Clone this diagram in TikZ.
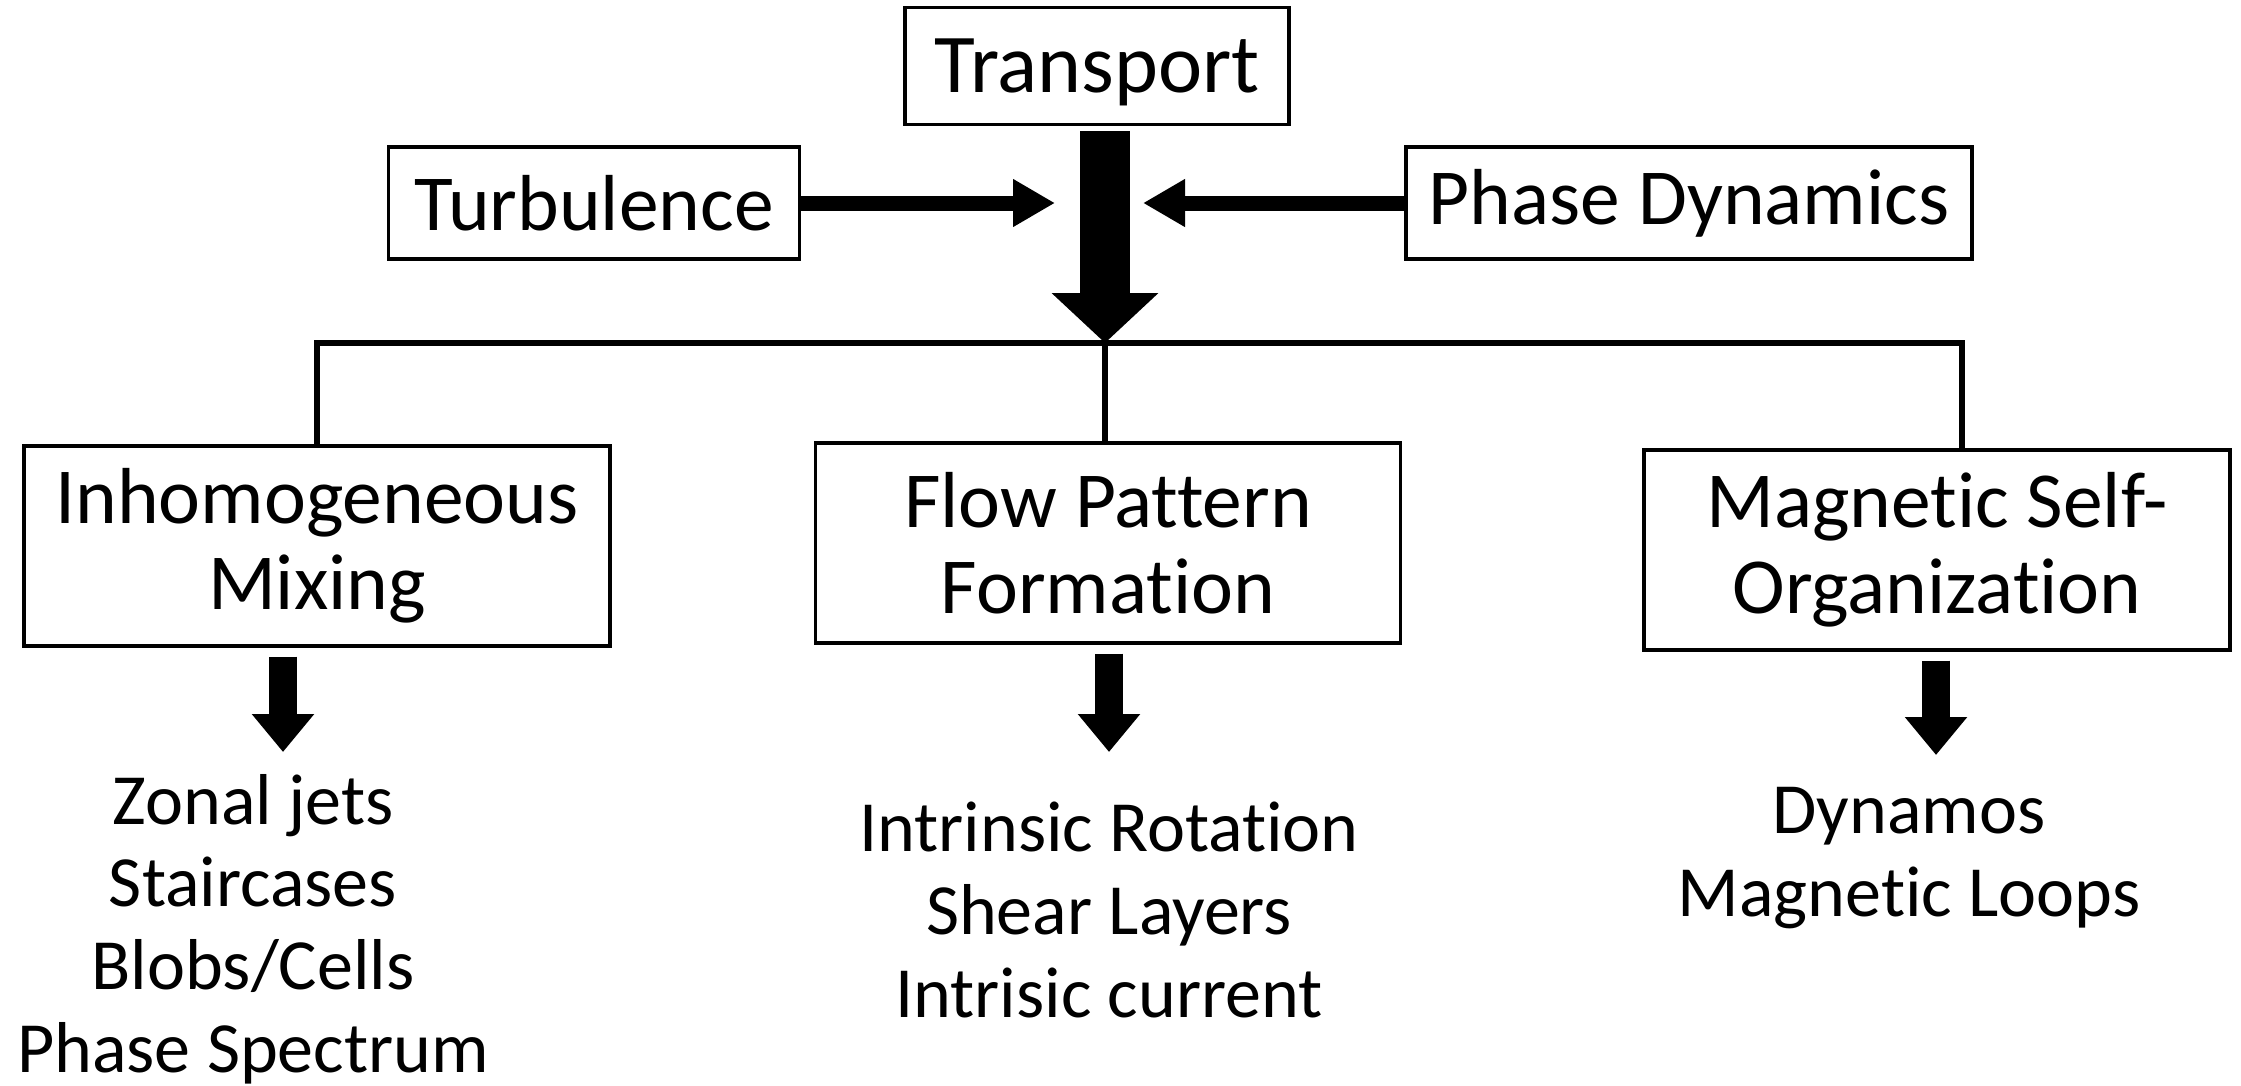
\documentclass[tikz,border=0pt]{standalone}
\usepackage{fontspec}
\setmainfont{Carlito}[Ligatures={NoCommon,NoContextual},Contextuals=NoAlternate]
\usetikzlibrary{arrows.meta,positioning}

\begin{document}
\begin{tikzpicture}[box/.style={draw,line width=0.9pt,align=center,inner sep=0pt,font=\fontsize{22.6}{24.5}\selectfont},
  items/.style={align=center,inner sep=0pt,font=\fontsize{20.5}{23.5}\selectfont},
  bar/.style={line width=1.7pt},
  fat/.style={line width=0.5cm,-{Triangle[length=0.5cm,width=1.04cm]}},
  side/.style={line width=0.15cm,-{Triangle[length=0.42cm,width=0.45cm]}},
  small/.style={line width=0.28cm,-{Triangle[length=0.38cm,width=0.6cm]}}]

    \useasboundingbox (0,0) rectangle (22.41,-10.85);

    \node[box,minimum width=3.84cm,minimum height=1.17cm,text depth=-2pt,font=\fontsize{23.8}{26}\selectfont] (tr) at (10.97,-0.66) {Transport};
    \node[box,minimum width=4.11cm,minimum height=1.12cm] (turb) at (5.94,-2.03) {Turbulence};
    \node[box,minimum width=5.66cm,minimum height=1.12cm] (phase) at (16.89,-2.03) {Phase Dynamics};

    \node[box,minimum width=5.86cm,minimum height=2cm] (inh) at (3.17,-5.46) {Inhomogeneous\\Mixing};
    \node[box,minimum width=5.85cm,minimum height=2cm] (flow) at (11.08,-5.43) {Flow Pattern\\Formation};
    \node[box,minimum width=5.86cm,minimum height=2cm] (mag) at (19.37,-5.50) {Magnetic Self-\\Organization};

    \node[items] (inhlist) at (2.53,-9.29) {Zonal jets\\Staircases\\Blobs/Cells\\Phase Spectrum};
    \node[items] (flowlist) at (11.09,-9.10) {Intrinsic Rotation\\Shear Layers\\Intrisic current};
    \node[items] (maglist) at (19.09,-8.58) {Dynamos\\Magnetic Loops};

    % arrows into transport
    \coordinate (jn) at (11.05,-3.43);
    \coordinate (ltip) at (10.55,-2.04);
    \coordinate (rtip) at (11.43,-2.07);
    \draw[side] (turb.east) -- (turb.east -| ltip);
    \draw[side] (phase.west) -- (phase.west -| rtip);
    \draw[fat,shorten <=0.05cm] (tr.south -| jn) -- (jn);

    % branching bar
    \draw[bar] (inh.north) |- (jn) -| ([xshift=0.25cm]mag.north);
    \draw[bar] (jn) -- (flow.north -| jn);

    % down to the lists
    \coordinate (t1) at (2.83,-7.52);
    \coordinate (t2) at (11.09,-7.52);
    \coordinate (t3) at (19.36,-7.55);
    \draw[small,shorten <=0.09cm] (inh.south -| t1) -- (t1);
    \draw[small,shorten <=0.09cm] (flow.south -| t2) -- (t2);
    \draw[small,shorten <=0.09cm] (mag.south -| t3) -- (t3);
\end{tikzpicture}
\end{document}
